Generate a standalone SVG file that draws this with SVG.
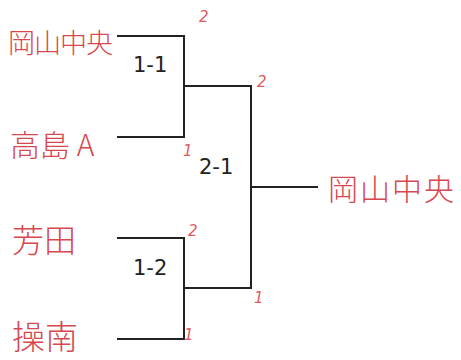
<svg xmlns="http://www.w3.org/2000/svg" width="461" height="360" viewBox="0 0 461 360">
<style>
.ln{fill:none;stroke:#222;stroke-width:2}
.team{font-family:"Noto Sans CJK JP","Noto Sans",sans-serif;fill:#d5484f;font-weight:300}
.score{font-family:"DejaVu Sans","Liberation Sans",sans-serif;fill:#e05a5f;font-size:15px;font-style:italic}
.match{font-family:"DejaVu Sans","Liberation Sans",sans-serif;fill:#222;font-size:21px}
</style>
<rect width="461" height="360" fill="#fff"/>
<g id="connectors">
<path class="ln" d="M117,36 H184 V137 H117"/>
<path class="ln" d="M117,238 H184 V339 H117"/>
<path class="ln" d="M184,86 H251 V288 H184"/>
<path class="ln" d="M251,187 H318"/>
</g>
<g id="team-okayamachuo"><text class="team" x="8" y="53" font-size="27" letter-spacing="-1">岡山中央</text></g>
<g id="team-takashima"><text class="team" x="10" y="156" font-size="30">高島 A</text></g>
<g id="team-yoshida"><text class="team" x="12" y="252" font-size="32">芳田</text></g>
<g id="team-sonan"><text class="team" x="12" y="349" font-size="33">操南</text></g>
<g id="winner"><text class="team" x="328" y="200" font-size="30" letter-spacing="2">岡山中央</text></g>
<g id="match-1-1"><text class="match" x="133" y="72">1-1</text></g>
<g id="match-1-2"><text class="match" x="133" y="275">1-2</text></g>
<g id="match-2-1"><text class="match" x="199" y="174">2-1</text></g>
<g id="scores">
<text class="score" x="199" y="22">2</text>
<text class="score" x="183" y="156">1</text>
<text class="score" x="257" y="87">2</text>
<text class="score" x="188" y="236">2</text>
<text class="score" x="254" y="303">1</text>
<text class="score" x="184" y="340">1</text>
</g>
</svg>
